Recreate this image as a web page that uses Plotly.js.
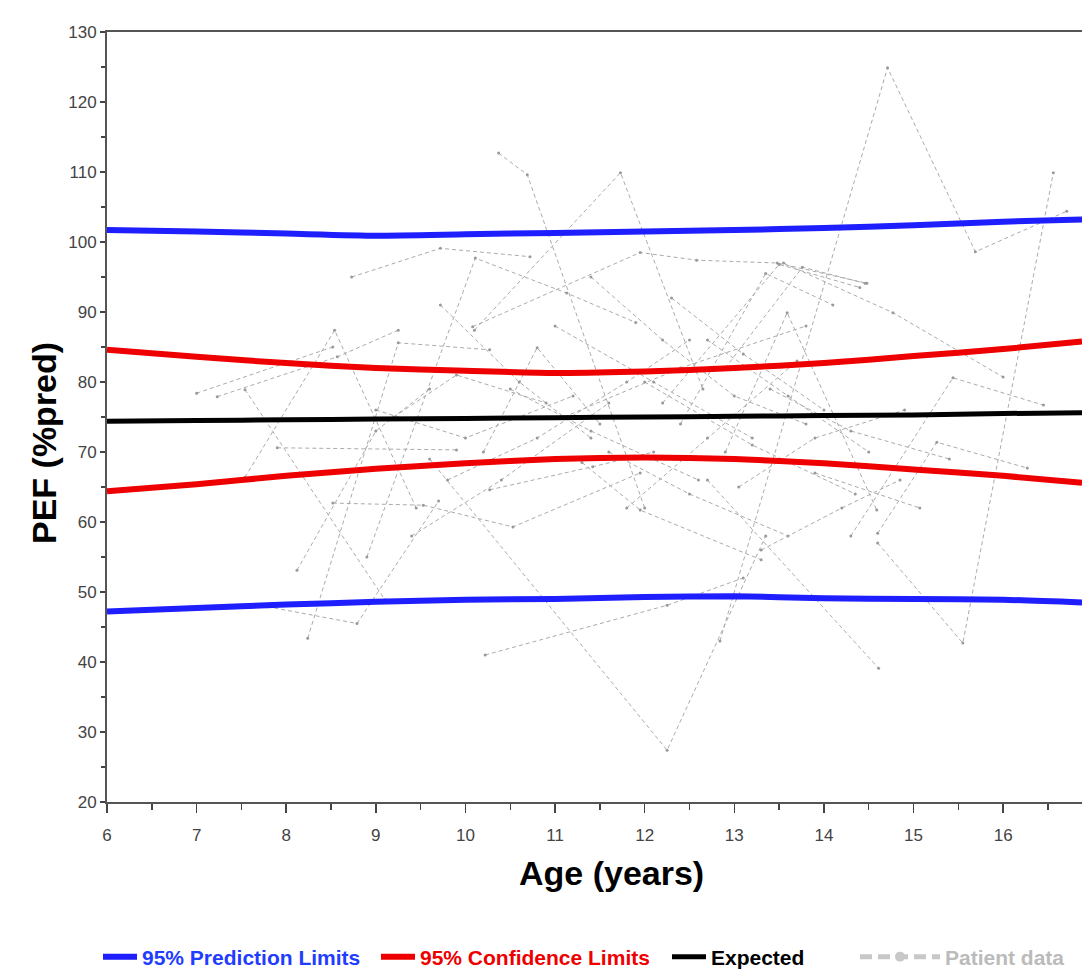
<!DOCTYPE html>
<html>
<head>
<meta charset="utf-8">
<script src="https://cdn.plot.ly/plotly-3.0.1.min.js"></script>
<style>
  html, body { margin: 0; padding: 0; background: #ffffff; }
  #chart { width: 1082px; height: 980px; }
</style>
</head>
<body>
<div id="chart"></div>
<script>
// ---------- Data ----------
const ageGrid   = [6, 7, 8, 9, 10, 11, 12, 13, 14, 15, 16, 16.88];
const upperPred = [101.7, 101.5, 101.2, 100.9, 101.1, 101.3, 101.5, 101.7, 102.0, 102.4, 102.9, 103.2];
const lowerPred = [47.2, 47.7, 48.2, 48.6, 48.9, 49.0, 49.3, 49.4, 49.1, 49.0, 48.9, 48.5];
const upperConf = [84.6, 83.6, 82.7, 82.0, 81.6, 81.3, 81.5, 82.0, 82.7, 83.7, 84.7, 85.8];
const lowerConf = [64.4, 65.4, 66.6, 67.6, 68.4, 69.0, 69.2, 69.0, 68.4, 67.5, 66.6, 65.6];
const expected  = [74.4, 74.5, 74.6, 74.7, 74.8, 74.9, 75.0, 75.1, 75.2, 75.3, 75.5, 75.6];

// Patient trajectories (age in years, PEF %pred)
const patientAge = [
  [8.73, 9.72, 10.72],
  [8.9, 10.11, 11.13, 11.9],
  [10.08, 11.95, 12.58, 13.48, 14.48],
  [10.37, 10.69, 12.0],
  [10.1, 11.73, 12.65],
  [7.0, 8.52],
  [7.23, 8.57, 9.25],
  [7.54, 8.54, 9.45],
  [7.54, 9.1],
  [7.9, 9.9],
  [8.12, 9.0, 9.6],
  [8.24, 9.25, 10.27],
  [7.79, 8.79, 9.7],
  [8.52, 9.53, 10.53, 11.95],
  [10.27, 11.42, 12.1],
  [11.3, 11.95, 13.3],
  [10.22, 12.25, 13.1],
  [9.6, 12.25, 13.35],
  [12.84, 14.71, 15.69, 16.71],
  [14.6, 15.55, 16.56],
  [12.7, 14.61],
  [12.9, 13.59, 14.59],
  [12.9, 13.76, 14.46],
  [13.55, 14.77, 16.0],
  [14.3, 15.44, 16.45],
  [14.6, 15.26, 16.27],
  [13.9, 15.07],
  [12.7, 13.6, 14.5],
  [12.0, 13.2, 14.35],
  [13.05, 13.9, 14.9],
  [11.1, 12.4, 13.8],
  [9.0, 10.0, 11.2],
  [9.8, 10.8, 11.8, 12.5],
  [11.6, 12.5, 13.6],
  [10.5, 11.4, 12.6],
  [12.2, 13.5, 14.4],
  [12.4, 13.35, 14.1],
  [10.2, 10.8, 11.5],
  [9.72, 10.6, 11.4],
  [9.2, 9.9, 10.9],
  [13.3, 14.2, 14.85],
  [11.0, 12.1, 13.2],
  [11.8, 12.7, 13.7],
  [9.4, 10.4, 11.6],
  [12.3, 13.1, 14.0],
  [13.4, 14.3, 15.4],
  [11.4, 12.2, 13.0, 13.8]
];
const patientPEF = [
  [95.0, 99.1, 97.9],
  [55.0, 97.7, 92.7, 88.5],
  [87.9, 98.5, 97.4, 97.0, 94.1],
  [112.7, 109.6, 62.0],
  [87.4, 109.9, 79.0],
  [78.4, 85.0],
  [77.9, 83.6, 87.4],
  [66.4, 87.4, 62.0],
  [78.9, 48.9],
  [70.6, 70.3],
  [53.1, 73.0, 79.0],
  [43.4, 85.6, 84.6],
  [47.9, 45.5, 63.0],
  [62.7, 62.4, 59.3, 67.0],
  [64.6, 67.9, 70.0],
  [68.5, 61.7, 54.6],
  [41.0, 48.1, 52.0],
  [69.0, 27.4, 58.0],
  [43.0, 124.9, 98.6, 104.4],
  [57.0, 42.7, 109.9],
  [66.0, 39.1],
  [70.0, 89.9, 61.7],
  [82.0, 96.4, 94.1],
  [97.0, 89.9, 80.7],
  [58.0, 80.6, 76.7],
  [58.4, 71.4, 67.7],
  [67.0, 62.0],
  [86.0, 78.0, 70.0],
  [80.0, 71.0, 64.0],
  [65.0, 72.0, 76.0],
  [75.0, 82.0, 88.0],
  [76.0, 72.0, 78.0],
  [66.0, 72.0, 80.0, 86.0],
  [70.0, 64.0, 58.0],
  [79.0, 73.0, 66.0],
  [77.0, 96.8, 93.5],
  [74.0, 95.5, 91.0],
  [70.0, 84.9, 74.0],
  [91.0, 80.0, 72.0],
  [75.0, 81.0, 77.0],
  [56.0, 62.0, 66.0],
  [88.0, 80.0, 72.0],
  [62.0, 72.0, 83.0],
  [58.0, 66.0, 77.0],
  [92.0, 84.0, 76.0],
  [79.0, 73.0, 69.0],
  [95.0, 86.0, 78.0, 74.0]
];

const seriesNames = ['95% Prediction Limits', '95% Confidence Limits', 'Expected', 'Patient data'];
const xTitle = 'Age (years)';
const yTitle = 'PEF (%pred)';

// ---------- Styling / layout helpers ----------
const W = 1082, H = 980;
const M = { l: 107, r: 0, t: 32, b: 178 };
const plotW = W - M.l - M.r, plotH = H - M.t - M.b;
const px2x = p => (p - M.l) / plotW;
const py2y = p => (H - M.b - p) / plotH;

const FONT = 'Liberation Sans, Arial, Helvetica, sans-serif';
const BLUE = '#1e1eff', RED = '#ee0000', BLACK = '#000000', GREY = '#ababab';

const traces = [];

// Patient data (drawn first, beneath)
patientAge.forEach((ages, i) => {
  traces.push({
    type: 'scatter', mode: 'lines+markers',
    x: ages, y: patientPEF[i],
    name: seriesNames[3], legend: 'legend4', legendgroup: 'patients',
    showlegend: false,
    line: { color: GREY, width: 1, dash: '4px,3px' },
    marker: { size: 3, color: '#999999' },
    hoverinfo: 'skip'
  });
});
// legend key for patient data
traces.push({
  type: 'scatter', mode: 'lines+markers', x: [null], y: [null],
  name: '<b>' + seriesNames[3] + '</b>', legend: 'legend4', legendgroup: 'patients',
  showlegend: true,
  line: { color: '#c8c8c8', width: 5, dash: '12px,6px' },
  marker: { size: 10, color: '#c8c8c8' }
});

function band(y, name, color, width, legendId, show) {
  return {
    type: 'scatter', mode: 'lines', x: ageGrid, y: y,
    name: '<b>' + name + '</b>', legend: legendId, legendgroup: legendId,
    showlegend: show, line: { color: color, width: width, shape: 'spline', smoothing: 0.6 },
    hoverinfo: 'skip'
  };
}
traces.push(band(upperConf, seriesNames[1], RED, 6, 'legend2', true));
traces.push(band(lowerConf, seriesNames[1], RED, 6, 'legend2', false));
traces.push(band(upperPred, seriesNames[0], BLUE, 6, 'legend', true));
traces.push(band(lowerPred, seriesNames[0], BLUE, 6, 'legend', false));
traces.push(band(expected, seriesNames[2], BLACK, 5, 'legend3', true));

function legendAt(pxLeft, color, itemwidth) {
  return {
    x: px2x(pxLeft), y: py2y(957), xanchor: 'left', yanchor: 'middle',
    orientation: 'h', bgcolor: 'rgba(0,0,0,0)', borderwidth: 0,
    itemwidth: itemwidth, itemclick: false, itemdoubleclick: false,
    font: { family: FONT, size: 21, color: color }
  };
}

const axisCommon = {
  showgrid: false, zeroline: false, showline: true,
  linecolor: '#555555', linewidth: 2,
  ticks: 'outside', tickcolor: '#444444', tickwidth: 1.5,
  tickfont: { family: FONT, size: 17, color: '#444444' },
  fixedrange: true
};

const layout = {
  width: W, height: H,
  margin: { l: M.l, r: M.r, t: M.t, b: M.b, autoexpand: false },
  paper_bgcolor: '#ffffff', plot_bgcolor: '#ffffff',
  font: { family: FONT },
  showlegend: true,
  xaxis: Object.assign({}, axisCommon, {
    range: [6, 16.88], tickmode: 'linear', tick0: 6, dtick: 1,
    ticklen: 9, mirror: true, ticklabelstandoff: 8,
    minor: { dtick: 0.5, ticks: 'outside', ticklen: 6, tickcolor: '#444444', tickwidth: 1.5, showgrid: false }
  }),
  yaxis: Object.assign({}, axisCommon, {
    range: [20, 130], tickmode: 'linear', tick0: 20, dtick: 10,
    ticklen: 5, mirror: false,
    minor: { dtick: 5, ticks: 'outside', ticklen: 4, tickcolor: '#444444', tickwidth: 1.5, showgrid: false }
  }),
  legend:  legendAt(98, '#1f3cff', 34),
  legend2: legendAt(376, RED, 34),
  legend3: legendAt(667, BLACK, 34),
  legend4: legendAt(855, '#bbbbbb', 80),
  annotations: [
    { text: '<b>' + xTitle + '</b>', xref: 'paper', yref: 'paper',
      x: px2x(611), y: py2y(873), xanchor: 'center', yanchor: 'middle',
      showarrow: false, font: { family: FONT, size: 34, color: '#000000' } },
    { text: '<b>' + yTitle + '</b>', xref: 'paper', yref: 'paper',
      x: px2x(44), y: py2y(443), xanchor: 'center', yanchor: 'middle', textangle: -90,
      showarrow: false, font: { family: FONT, size: 34, color: '#000000' } }
  ]
};

Plotly.newPlot('chart', traces, layout, { staticPlot: true, displayModeBar: false });
</script>
</body>
</html>
